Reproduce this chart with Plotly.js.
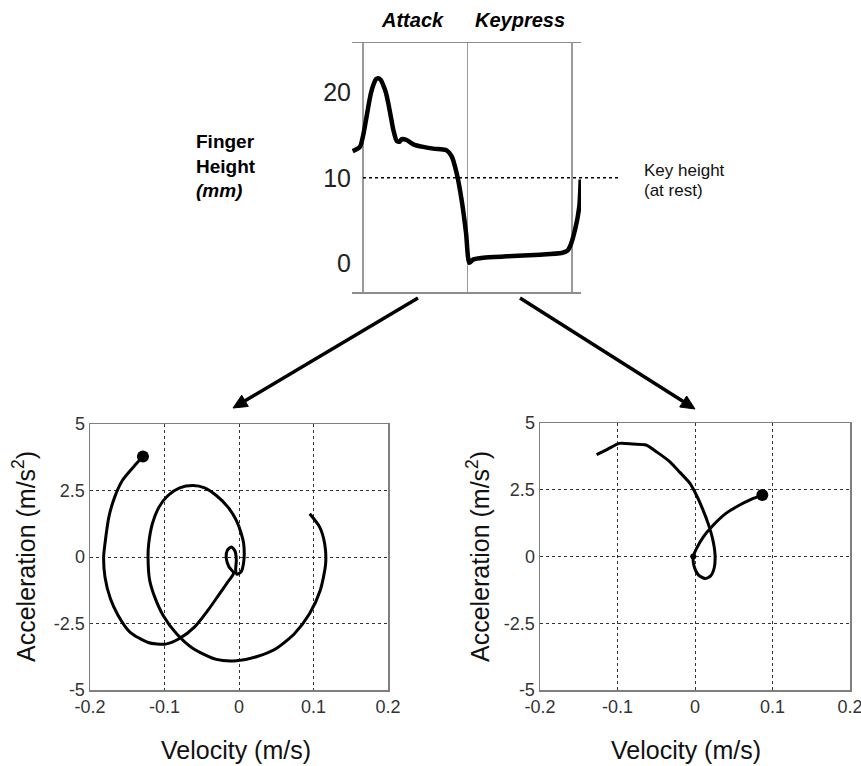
<!DOCTYPE html>
<html>
<head>
<meta charset="utf-8">
<script src="https://cdn.plot.ly/plotly-3.0.1.min.js"></script>
<style>
  html, body { margin: 0; padding: 0; background: #fff; }
  #chart { width: 861px; height: 766px; }
</style>
</head>
<body>
<div id="chart"></div>
<script>
// Finger height over one key stroke (attack phase, then keypress)
const timeMs = [-9.9, -2.9, 0.3, 3.0, 5.1, 7.5, 9.9, 12.5, 14.6, 17.0, 19.4, 22.0, 24.2, 27.0, 29.0, 32.2,
  35.0, 37.0, 41.8, 48.1, 57.7, 67.3, 76.0, 80.1, 84.9, 89.7, 94.4, 98.6, 101.7, 105.6, 115.1, 137.5,
  169.4, 190.1, 195.5, 198.1, 202.9, 207.0, 208.3];
const heightMm = [13.1, 13.6, 15.0, 16.8, 18.3, 19.8, 20.8, 21.5, 21.6, 21.4, 20.8, 19.9, 18.7, 16.9, 15.6, 14.3,
  14.2, 14.5, 14.4, 13.9, 13.6, 13.4, 13.3, 13.2, 12.5, 10.5, 7.4, 3.6, 0.1, 0.5, 0.7, 0.85,
  1.05, 1.25, 1.5, 2.0, 3.95, 6.7, 9.8];
const heightTicks = [0, 10, 20];
const keyRestHeight = 10;

// Phase plane during the attack: velocity vs acceleration
const attackVel = [-0.1289, -0.1400, -0.1566, -0.1669, -0.1745, -0.1799, -0.1817, -0.1799, -0.1727, -0.1624,
  -0.1468, -0.1221, -0.0984, -0.0805, -0.0595, -0.0416, -0.0259, -0.0134, -0.0072, -0.0134,
  -0.0170, -0.0157, -0.0103, -0.0054, -0.0036, -0.0045, -0.0027, 0.0027, 0.0063, 0.0063,
  0.0031, -0.0036, -0.0148, -0.0304, -0.0461, -0.0617, -0.0796, -0.0953, -0.1074, -0.1163,
  -0.1212, -0.1221, -0.1199, -0.1132, -0.1020, -0.0841, -0.0617, -0.0304, -0.0036, 0.0233,
  0.0501, 0.0747, 0.0948, 0.1091, 0.1163, 0.1150, 0.1083, 0.0949];
const attackAcc = [3.775, 3.4375, 2.875, 2.25, 1.525, 0.5, 0, -0.75, -1.5625, -2.1875,
  -2.8125, -3.2125, -3.275, -3.075, -2.625, -2.0, -1.375, -0.875, -0.6, -0.375,
  -0.0625, 0.25, 0.375, 0.225, -0.125, -0.5, -0.65, -0.5625, -0.1875, 0.5,
  0.875, 1.375, 1.875, 2.3125, 2.6, 2.6875, 2.6, 2.3125, 1.875, 1.25,
  0.5, 0, -0.875, -1.5, -2.1875, -2.875, -3.4375, -3.85, -3.9, -3.75,
  -3.4375, -2.875, -2.125, -1.25, -0.25, 0.5, 1.125, 1.625];

// Phase plane during the keypress
const pressVel = [-0.1269, -0.1131, -0.0976, -0.0796, -0.0632, -0.0486, -0.0331, -0.0194, -0.0065, 0.0022,
  0.0099, 0.0172, 0.0228, 0.0258, 0.0249, 0.0202, 0.0129, 0.0043, -0.0013, -0.0022,
  0.0022, 0.0108, 0.0228, 0.0387, 0.0559, 0.0731, 0.0869];
const pressAcc = [3.8125, 4.0125, 4.2375, 4.2125, 4.175, 3.9, 3.5625, 3.15, 2.7375, 2.275,
  1.775, 1.2125, 0.65, 0.0875, -0.4125, -0.725, -0.825, -0.6875, -0.35, 0,
  0.3125, 0.7375, 1.15, 1.5875, 1.9, 2.15, 2.3];

const velTicks = [-0.2, -0.1, 0, 0.1, 0.2];
const velTickText = ['-0.2', '-0.1', '0', '0.1', '0.2'];
const accTicks = [-5, -2.5, 0, 2.5, 5];
const accTickText = ['-5', '-2.5', '0', '2.5', '5'];

// page geometry helpers (pixels -> paper fractions)
const W = 861, H = 766;
const px = v => v / W;
const py = v => 1 - v / H;

const FONT = 'Arial, "Liberation Sans", sans-serif';

// connector arrow from the top panel down to a phase plot: shaft + filled head
function arrowShapes(tail, tip, headLen, headHalf, width) {
  const dx = tip[0] - tail[0], dy = tip[1] - tail[1];
  const len = Math.hypot(dx, dy);
  const ux = dx / len, uy = dy / len;
  const bx = tip[0] - headLen * ux, by = tip[1] - headLen * uy;
  const nx = -uy, ny = ux;
  const c1 = [bx + headHalf * nx, by + headHalf * ny];
  const c2 = [bx - headHalf * nx, by - headHalf * ny];
  const P = p => px(p[0]).toFixed(5) + ',' + py(p[1]).toFixed(5);
  return [
    { type: 'line', xref: 'paper', yref: 'paper', x0: px(tail[0]), y0: py(tail[1]), x1: px(bx + 2 * ux), y1: py(by + 2 * uy),
      line: { color: '#000', width: width } },
    { type: 'path', xref: 'paper', yref: 'paper',
      path: 'M' + P(tip) + ' L' + P(c1) + ' L' + P(c2) + ' Z',
      fillcolor: '#000', line: { color: '#000', width: 1 } }
  ];
}

const traces = [
  { x: timeMs, y: heightMm, xaxis: 'x', yaxis: 'y', mode: 'lines',
    line: { color: '#000', width: 4.5, shape: 'spline', smoothing: 0.6 }, hoverinfo: 'skip' },
  { x: attackVel, y: attackAcc, xaxis: 'x2', yaxis: 'y2', mode: 'lines',
    line: { color: '#000', width: 3, shape: 'spline', smoothing: 0.7 }, hoverinfo: 'skip' },
  { x: [attackVel[0]], y: [attackAcc[0]], xaxis: 'x2', yaxis: 'y2', mode: 'markers',
    marker: { color: '#000', size: 12 }, hoverinfo: 'skip' },
  { x: pressVel, y: pressAcc, xaxis: 'x3', yaxis: 'y3', mode: 'lines',
    line: { color: '#000', width: 3, shape: 'spline', smoothing: 0.7 }, hoverinfo: 'skip' },
  { x: [pressVel[pressVel.length - 1]], y: [pressAcc[pressAcc.length - 1]], xaxis: 'x3', yaxis: 'y3', mode: 'markers',
    marker: { color: '#000', size: 12 }, hoverinfo: 'skip' },
  { x: [pressVel[19]], y: [pressAcc[19]], xaxis: 'x3', yaxis: 'y3', mode: 'markers',
    marker: { color: '#000', size: 6 }, hoverinfo: 'skip' }
];

const phaseX = dom => ({
  domain: dom, range: [-0.2, 0.2], tickvals: velTicks, ticktext: velTickText,
  showgrid: true, gridcolor: '#333', griddash: 'dot', gridwidth: 1,
  zeroline: false, showline: true, mirror: true, linecolor: '#7f7f7f', linewidth: 1.5,
  ticks: '', ticklabeloverflow: 'allow', tickfont: { family: FONT, size: 18, color: '#333' }, fixedrange: true
});
const phaseY = (dom, anchor) => ({
  domain: dom, range: [-5, 5], tickvals: accTicks, ticktext: accTickText, anchor: anchor,
  showgrid: true, gridcolor: '#333', griddash: 'dot', gridwidth: 1,
  zeroline: false, showline: true, mirror: true, linecolor: '#7f7f7f', linewidth: 1.5,
  ticks: '', ticklabeloverflow: 'allow', tickfont: { family: FONT, size: 18, color: '#333' }, fixedrange: true
});

const label = (text, x, y, size, extra) => Object.assign({
  text: text, xref: 'paper', yref: 'paper', x: px(x), y: py(y),
  xanchor: 'center', yanchor: 'middle', showarrow: false,
  font: { family: FONT, size: size, color: '#111' }
}, extra || {});

const layout = {
  width: W, height: H,
  margin: { l: 0, r: 0, t: 0, b: 0 },
  paper_bgcolor: '#fff', plot_bgcolor: '#fff',
  showlegend: false,
  font: { family: FONT, color: '#000' },

  xaxis: { domain: [px(352), px(581)], range: [-10.5, 208.6], anchor: 'y',
    tickvals: [0, 100, 200], showticklabels: false, ticks: '',
    showgrid: true, gridcolor: '#9a9a9a', gridwidth: 1.2,
    zeroline: false, showline: true, mirror: true, linecolor: '#8c8c8c', linewidth: 1.5, fixedrange: true },
  yaxis: { domain: [py(292), py(43)], range: [-3.3, 25.7], anchor: 'x',
    tickvals: heightTicks, ticks: '', showgrid: false, zeroline: false, showline: false,
    tickfont: { family: FONT, size: 25, color: '#222' }, fixedrange: true },

  xaxis2: Object.assign(phaseX([px(90), px(388)]), { anchor: 'y2' }),
  yaxis2: phaseY([py(690), py(424)], 'x2'),
  xaxis3: Object.assign(phaseX([px(540), px(850)]), { anchor: 'y3' }),
  yaxis3: phaseY([py(690), py(423)], 'x3'),

  shapes: [
    { type: 'line', xref: 'paper', yref: 'y', x0: px(363), x1: px(618), y0: keyRestHeight, y1: keyRestHeight,
      line: { color: '#000', width: 1.5, dash: 'dot' } }
  ].concat(arrowShapes([418, 298], [233, 408], 14, 6.5, 3.5))
   .concat(arrowShapes([520, 298], [695, 409], 14, 6.5, 3.5)),

  annotations: [
    label('<b><i>Attack</i></b>', 412, 20, 20, { font: { family: FONT, size: 20, color: '#000' } }),
    label('<b><i>Keypress</i></b>', 520, 20, 20, { font: { family: FONT, size: 20, color: '#000' } }),
    label('<b>Finger</b><br><b>Height</b><br><b><i>(mm)</i></b>', 194, 166, 19,
      { xanchor: 'left', align: 'left', font: { family: FONT, size: 19, color: '#000' } }),
    label('Key height', 642, 171, 17, { xanchor: 'left' }),
    label('(at rest)', 642, 190, 17, { xanchor: 'left' }),

    label('Acceleration (m/s<sup>2</sup>)', 24, 557, 25, { textangle: -90 }),
    label('Acceleration (m/s<sup>2</sup>)', 478, 557, 25, { textangle: -90 }),
    label('Velocity (m/s)', 236, 750, 25),
    label('Velocity (m/s)', 686, 750, 25)
  ]
};

Plotly.newPlot('chart', traces, layout, { staticPlot: true, displayModeBar: false });
</script>
</body>
</html>
